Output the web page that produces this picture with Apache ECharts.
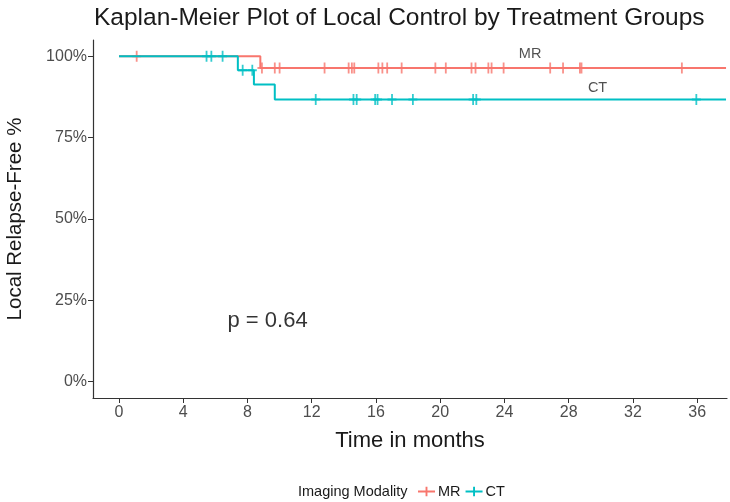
<!DOCTYPE html>
<html><head><meta charset="utf-8">
<script src="https://cdn.jsdelivr.net/npm/echarts@6/dist/echarts.min.js"></script>
<style>html,body{margin:0;padding:0;background:#fff}#c{width:730px;height:502px}</style>
</head><body><div id="c"></div>
<script>
// ---- data ----
var xTicks = [0, 4, 8, 12, 16, 20, 24, 28, 32, 36];
var yTicks = [0, 0.25, 0.5, 0.75, 1];
var followUpEnd = 37.8;
var mrTimes = [0, 8.8];
var mrSurv = [1, 0.964];
var ctTimes = [0, 7.4, 8.4, 9.7];
var ctSurv = [1, 0.957, 0.913, 0.867];
var mrCensor = [1.1, 8.9, 9.7, 10.0, 12.8, 14.3, 14.5, 14.65, 16.15, 16.4, 16.7, 17.6, 19.7, 20.35, 21.95, 22.2, 23.0, 23.2, 23.95, 26.85, 27.65, 28.7, 28.8, 35.05];
var ctCensor = [5.45, 5.75, 6.45, 7.7, 8.3, 12.25, 14.6, 14.8, 15.95, 16.1, 17.0, 18.3, 22.05, 22.25, 35.95];
var groupNames = ['MR', 'CT'];
var curveLabels = [{name: 'MR', x: 25.6, y: 1.006}, {name: 'CT', x: 29.8, y: 0.902}];
var pText = 'p = 0.64';
var pPos = [9.25, 0.187];

var colors = {MR: '#F8766D', CT: '#00BFC4'};
function stepData(times, surv, end) {
  var d = times.map(function (t, i) { return [t, surv[i]]; });
  d.push([end, surv[surv.length - 1]]);
  return d;
}
function survAt(times, surv, t) {
  var s = surv[0];
  for (var i = 0; i < times.length; i++) { if (times[i] <= t) s = surv[i]; }
  return s;
}
var plus = 'path://M0,4.5h9v2h-9z M3.6,0h1.8v11h-1.8z';
var legendIcon = 'path://M0,4h8v-4h2v4h8v2h-8v4h-2v-4h-8z';
var chart = echarts.init(document.getElementById('c'));
var font = 'Liberation Sans, Arial, sans-serif';
var dark = '#1a1a1a';
chart.setOption({
  animation: false,
  textStyle: {fontFamily: font},
  title: [{
    text: 'Kaplan-Meier Plot of Local Control by Treatment Groups',
    left: 89, top: 1,
    textStyle: {fontSize: 24.5, fontWeight: 'normal', color: dark, fontFamily: font}
  }, {
    text: 'Imaging Modality', left: 293, top: 479,
    textStyle: {fontSize: 14.5, fontWeight: 'normal', color: dark, fontFamily: font}
  }],
  legend: {
    data: groupNames.map(function (n) { return {name: n, icon: legendIcon}; }),
    left: 413, top: 479, itemWidth: 17, itemHeight: 10, itemGap: 5,
    textStyle: {fontSize: 14.5, color: dark, fontFamily: font, padding: [0, 0, 0, -2]}
  },
  grid: {left: 93, top: 40, width: 634, height: 358, containLabel: false, outerBoundsMode: 'none'},
  xAxis: {
    type: 'value', min: -1.62, max: 37.86,
    name: 'Time in months', nameLocation: 'middle', nameGap: 32,
    nameTextStyle: {fontSize: 22, color: dark, fontFamily: font},
    axisLine: {onZero: false, lineStyle: {color: '#333', width: 1.2}},
    axisTick: {show: true, length: 5, customValues: xTicks, lineStyle: {color: '#333'}},
    axisLabel: {customValues: xTicks, fontSize: 16, color: '#4d4d4d', margin: 7},
    splitLine: {show: false}
  },
  yAxis: {
    type: 'value', min: -0.05, max: 1.05,
    name: 'Local Relapse-Free %', nameLocation: 'middle', nameGap: 67,
    nameTextStyle: {fontSize: 20.5, color: dark, fontFamily: font},
    axisLine: {show: true, onZero: false, lineStyle: {color: '#333', width: 1.2}},
    axisTick: {show: true, length: 5, customValues: yTicks, lineStyle: {color: '#333'}},
    axisLabel: {customValues: yTicks, fontSize: 16, color: '#4d4d4d', margin: 6,
      formatter: function (v) { return Math.round(v * 100) + '%'; }},
    splitLine: {show: false}
  },
  series: [
    {name: 'MR', type: 'line', step: 'end', symbol: 'none', data: stepData(mrTimes, mrSurv, followUpEnd),
      lineStyle: {color: colors.MR, width: 2}, itemStyle: {color: colors.MR}, z: 3},
    {name: 'CT', type: 'line', step: 'end', symbol: 'none', data: stepData(ctTimes, ctSurv, followUpEnd),
      lineStyle: {color: colors.CT, width: 2}, itemStyle: {color: colors.CT}, z: 4},
    {name: 'MRc', type: 'scatter', symbol: plus, symbolSize: [9, 11], itemStyle: {color: colors.MR}, z: 3,
      data: mrCensor.map(function (t) { return [t, survAt(mrTimes, mrSurv, t)]; })},
    {name: 'CTc', type: 'scatter', symbol: plus, symbolSize: [9, 11], itemStyle: {color: colors.CT}, z: 4,
      data: ctCensor.map(function (t) { return [t, survAt(ctTimes, ctSurv, t)]; })},
    {name: 'labels', type: 'scatter', symbol: 'circle', symbolSize: 1, z: 5,
      itemStyle: {color: 'rgba(0,0,0,0)'},
      data: curveLabels.map(function (l) { return {value: [l.x, l.y], name: l.name}; }),
      label: {show: true, position: 'inside', formatter: '{b}', fontSize: 14.5, color: '#262626',
        textBorderWidth: 0, fontFamily: font}},
    {name: 'p', type: 'scatter', symbol: 'circle', symbolSize: 1, z: 5,
      itemStyle: {color: 'rgba(0,0,0,0)'},
      data: [{value: pPos, name: pText}],
      label: {show: true, position: 'inside', formatter: '{b}', fontSize: 22, color: '#000',
        textBorderWidth: 0, fontFamily: font}}
  ]
});
</script></body></html>
